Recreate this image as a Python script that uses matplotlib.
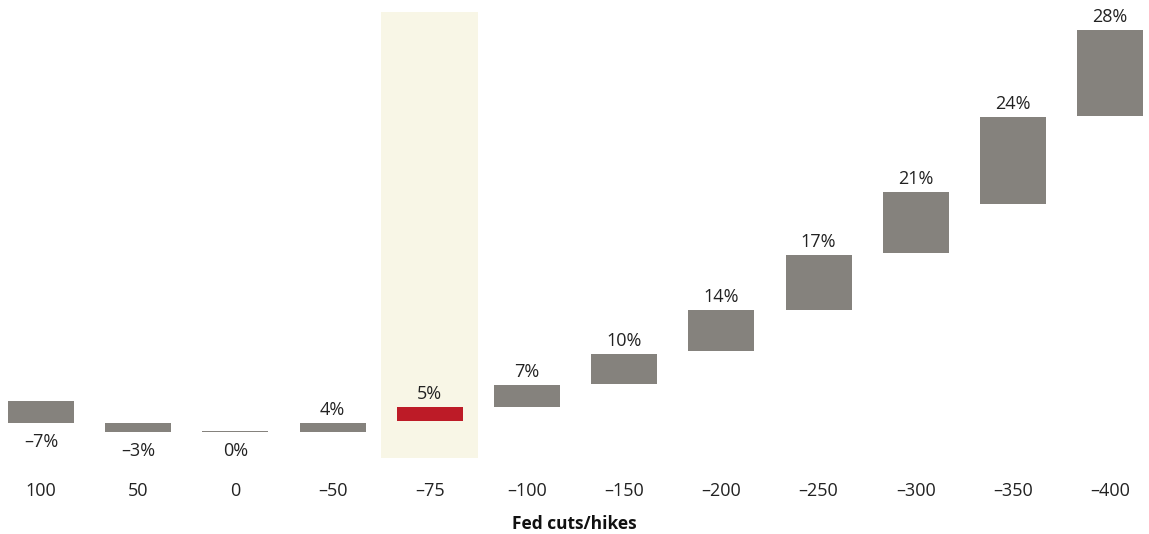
import numpy as np
import matplotlib.pyplot as plt

# Fed moves (bp) and the value shown above/below each bar
moves = ['100', '50', '0', '\u201350', '\u201375', '\u2013100', '\u2013150',
         '\u2013200', '\u2013250', '\u2013300', '\u2013350', '\u2013400']
values = [-7, -3, 0, 4, 5, 7, 10, 14, 17, 21, 24, 28]

# floating bar extents
bar_low = [0.63, 0.0, 0.0, 0.0, 0.77, 1.74, 3.34, 5.64, 8.50, 12.47, 15.88, 22.0]
bar_high = [2.16, 0.63, 0.09, 0.63, 1.74, 3.27, 5.43, 8.50, 12.33, 16.72, 21.94, 28.0]

highlight = 4  # the -75 scenario

grey = '#85827d'
red = '#bd1b27'

plt.rcParams['font.family'] = ['Open Sans', 'DejaVu Sans']

fig = plt.figure(figsize=(11.49, 5.34), dpi=100)
ax = fig.add_axes([0, 0.1423, 1, 0.8352])

x = np.arange(len(moves))
heights = np.array(bar_high) - np.array(bar_low)
colors = [red if i == highlight else grey for i in x]

ax.axvspan(highlight - 0.5, highlight + 0.5, color='#f8f6e6', zorder=0, lw=0)
ax.bar(x, heights, bottom=bar_low, width=0.68, color=colors, zorder=2)

for i, v in enumerate(values):
    txt = f'{v}%'.replace('-', '\u2013')
    if v <= 0:
        ax.annotate(txt, (i, bar_low[i]), xytext=(0, -13.5), textcoords='offset points',
                    ha='center', va='center', fontsize=13, color='#222222')
    else:
        ax.annotate(txt, (i, bar_high[i]), xytext=(0, 9.5), textcoords='offset points',
                    ha='center', va='center', fontsize=13, color='#222222')

ax.set_xlim(-0.422, 11.40)
ax.set_ylim(-1.81, 29.25)
ax.set_xticks(x)
ax.set_xticklabels(moves, fontsize=13, color='#222222')
ax.tick_params(axis='x', length=0, pad=17)
ax.set_yticks([])
for s in ax.spines.values():
    s.set_visible(False)

ax.set_xlabel('Fed cuts/hikes', fontsize=12.5, fontweight='bold', color='#111111', labelpad=11)

fig.savefig('out.png', dpi=100)
